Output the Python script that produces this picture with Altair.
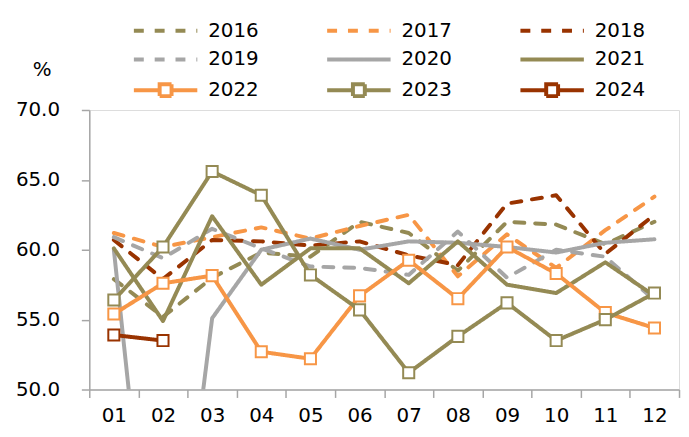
import altair as alt
import pandas as pd

months = ["01", "02", "03", "04", "05", "06", "07", "08", "09", "10", "11", "12"]
years = ["2016", "2017", "2018", "2019", "2020", "2021", "2022", "2023", "2024"]

v2016 = [57.9, 55.2, 58.0, 59.8, 59.5, 62.0, 61.2, 58.5, 62.0, 61.8, 60.4, 62.0]
v2017 = [61.2, 60.2, 60.9, 61.6, 60.8, 61.7, 62.5, 58.1, 61.1, 58.7, 61.4, 63.8]
v2018 = [60.7, 57.9, 60.7, 60.6, 60.3, 60.6, 59.6, 58.9, 63.3, 63.9, 59.7, 62.5]
v2019 = [60.9, 59.4, 61.5, 60.1, 58.8, 58.7, 58.2, 61.3, 58.0, 60.0, 59.5, 56.4]
v2020 = [60.0, 26.9, 55.1, 60.0, 60.8, 60.0, 60.6, 60.5, 60.2, 59.8, 60.5, 60.75]
v2021 = [60.1, 54.9, 62.4, 57.5, 60.1, 60.1, 57.6, 60.6, 57.5, 56.9, 59.1, 56.7]
v2022 = [55.4, 57.6, 58.15, 52.7, 52.2, 56.7, 59.25, 56.5, 60.2, 58.3, 55.5, 54.4]
v2023 = [56.4, 60.2, 65.6, 63.9, 58.2, 55.7, 51.2, 53.8, 56.2, 53.5, 55.0, 56.9]
v2024 = [53.9, 53.5]

y_ticks = [50, 55, 60, 65, 70]

colors = ["#948A54", "#F79646", "#993300", "#A6A6A6", "#A6A6A6",
          "#948A54", "#F79646", "#948A54", "#993300"]
dashes = [[10, 11], [10, 11], [10, 11], [10, 11], [1, 0], [1, 0], [1, 0], [1, 0], [1, 0]]
marker_years = ["2022", "2023", "2024"]

series = [v2016, v2017, v2018, v2019, v2020, v2021, v2022, v2023, v2024]
rows = []
for yr, vals in zip(years, series):
    for m, v in zip(months, vals):
        rows.append({"year": yr, "month": m, "value": v})
df = pd.DataFrame(rows)

FONT = "DejaVu Sans"
AXIS_GRAY = "#A6A6A6"

legend_shape = ("toNumber(datum.value) >= 2022 ? "
                "'M-3.2,0H-0.6M0.6,0H3.2M-0.6,-0.6H0.6V0.6H-0.6Z' : 'M-3.2,0H3.2'")

legend = alt.Legend(
    title=None, orient="none", legendX=65, legendY=-92, columns=3, direction="horizontal",
    symbolType={"expr": legend_shape}, symbolSize=400, symbolStrokeWidth=4,
    symbolFillColor="white", labelFont=FONT, labelFontSize=20, labelColor="black",
    labelOffset=31, columnPadding=61, rowPadding=7, symbolOffset=0,
)

x_enc = alt.X("month:N", sort=months,
              scale=alt.Scale(domain=months, paddingInner=0, paddingOuter=0),
              axis=alt.Axis(title=None, labelAngle=0, tickBand="extent", tickSize=8,
                            labelPadding=8, labelFont=FONT, labelFontSize=20,
                            labelColor="black", domainColor=AXIS_GRAY, tickColor=AXIS_GRAY,
                            domainWidth=1.5, tickWidth=1.5, grid=False))
y_enc = alt.Y("value:Q", scale=alt.Scale(domain=[50, 70], nice=False, zero=False),
              axis=alt.Axis(title="%", titleAngle=0, titleX=-48, titleY=-41,
                            titleAlign="center", titleBaseline="middle",
                            titleFont=FONT, titleFontSize=20, titleFontWeight="normal",
                            titleColor="black", values=y_ticks, format=".1f",
                            tickSize=8, labelPadding=22, labelFont=FONT, labelFontSize=20,
                            labelColor="black", domainColor=AXIS_GRAY, tickColor=AXIS_GRAY,
                            domainWidth=1.5, tickWidth=1.5, grid=False))

color_enc = alt.Color("year:N", scale=alt.Scale(domain=years, range=colors), legend=legend)
dash_enc = alt.StrokeDash("year:N", scale=alt.Scale(domain=years, range=dashes), legend=legend)


def lines_for(sel):
    return alt.Chart(df).transform_filter(
        alt.FieldOneOfPredicate(field="year", oneOf=sel)
    ).mark_line(strokeWidth=4, strokeCap="round", strokeJoin="round", clip=True).encode(
        x=x_enc, y=y_enc, color=color_enc, strokeDash=dash_enc
    )


def markers_for(yr):
    return alt.Chart(df).transform_filter(
        alt.FieldEqualPredicate(field="year", equal=yr)
    ).mark_point(shape="square", filled=True, fill="white", size=125, strokeWidth=2,
                 opacity=1, clip=True).encode(
        x=x_enc, y=y_enc,
        stroke=alt.Stroke("year:N", scale=alt.Scale(domain=years, range=colors), legend=None),
    )


chart = alt.layer(
    lines_for(years[:7]),
    markers_for("2022"),
    lines_for(["2023"]),
    markers_for("2023"),
    lines_for(["2024"]),
    markers_for("2024"),
).properties(
    width=595, height=282,
    autosize=alt.AutoSizeParams(type="none"),
    padding={"left": 82, "top": 101, "right": 2, "bottom": 45},
).configure_view(stroke=None).configure(font=FONT)

chart.save("out.html", embed_options={"renderer": "svg", "actions": False})
